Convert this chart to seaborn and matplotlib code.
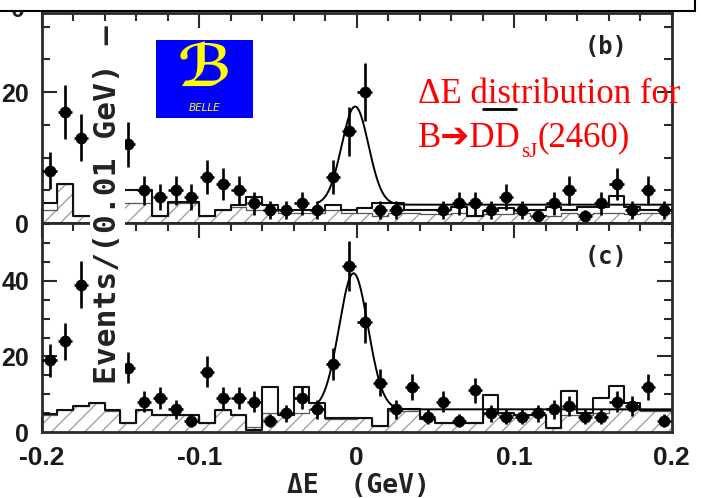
import numpy as np
import pandas as pd
import matplotlib
matplotlib.use("Agg")
import matplotlib.pyplot as plt
from matplotlib.ticker import MultipleLocator, FuncFormatter
from matplotlib.patches import Rectangle
from matplotlib.lines import Line2D
import seaborn as sns

# ---------------- data ----------------
bin_lo, bin_hi, n_bins = -0.20, 0.20, 40
nan = np.nan

# panel (b): events per 0.01 GeV bin (bins hidden by the label box -> nan)
counts_b = [8, 17, 13, nan, nan, 12, 5, 4, 5, 4,
            7, 6, 5, 3, 2, 2, 3, 2, 7, 14,
            20, 2, 2, nan, nan, 2, 3, 3, 2, 4,
            2, 1, 3, 5, 1, 3, 6, 2, 5, 2]
hatch_b = [2.0, 6.0, 1.0, 1.0, 1.0, 3.0, 3.0, 1.0, 3.0, 3.0,
           1.0, 2.0, 2.5, 2.0, 2.0, 1.5, 1.5, 1.5, 2.0, 1.5,
           1.5, 1.0, 1.5, 1.5, 1.3, 1.3, 1.5, 1.0, 1.3, 1.3,
           1.5, 1.0, 1.0, 1.5, 1.3, 1.5, 1.5, 1.3, 1.5, 1.5]
line_b = [3.0, 6.0, 1.0, 1.0, 1.0, 5.0, 5.0, 1.0, 3.2, 3.2,
          1.0, 2.0, 2.7, 3.9, 2.7, 2.0, 2.0, 2.0, 2.7, 2.0,
          2.3, 3.0, 3.0, 2.0, 2.0, 2.0, 2.5, 1.0, 1.8, 2.3,
          2.0, 2.0, 2.5, 2.0, 2.5, 2.5, 4.1, 2.5, 2.0, 2.0]

# panel (c)
counts_c = [19, 24, 39, nan, nan, 17, 8, 9, 6, 3,
            16, 9, 9, 8, 3, 5, 9, 6, 18, 44,
            29, 13, 6, 12, 4, 8, 3, 11, 5, 4,
            4, 5, 6, 7, 4, 4, 8, 7, 12, 3]
hatch_c = [4.6, 5.7, 6.8, 7.7, 5.5, 2.4, 5.7, 4.6, 4.6, 4.6,
           2.4, 5.7, 4.6, 1.3, 5.0, 4.6, 5.0, 6.0, 3.5, 3.5,
           3.7, 1.5, 5.5, 5.5, 3.5, 2.4, 2.4, 2.4, 5.0, 4.6,
           4.6, 4.6, 1.1, 4.6, 4.6, 5.0, 6.0, 6.0, 5.5, 5.5]
line_c = [4.8, 5.7, 6.8, 7.7, 5.7, 2.4, 5.7, 4.6, 4.6, 4.6,
          2.4, 5.7, 4.6, 0.6, 11.9, 4.6, 11.9, 7.7, 3.7, 3.7,
          3.7, 1.5, 6.0, 6.0, 3.5, 2.4, 2.4, 2.4, 9.9, 5.0,
          4.6, 4.6, 1.1, 10.8, 5.0, 9.0, 12.1, 7.7, 5.7, 5.7]

# fit: Gaussian signal + flat background, fitted range
fit_range = (-0.025, 0.20)
fit_b = dict(mean=-0.001, sigma=0.0085, amp=15.0, bkg=2.8)
fit_c = dict(mean=-0.002, sigma=0.0092, amp=36.0, bkg=6.0)

xticks_major = [-0.2, -0.1, 0.0, 0.1, 0.2]

# ---------------- figure ----------------
sns.set_theme(style="ticks")
plt.rcParams["font.family"] = ["DejaVu Sans"]
plt.rcParams["hatch.color"] = "#9a9a9a"
plt.rcParams["hatch.linewidth"] = 0.9

edges = np.linspace(bin_lo, bin_hi, n_bins + 1)
centers = 0.5 * (edges[:-1] + edges[1:])

fig = plt.figure(figsize=(7.01, 4.98), dpi=100)
fig.patch.set_facecolor("white")
L, W = 41.7 / 701, 630.0 / 701
ax_b = fig.add_axes([L, 1 - 223 / 498, W, (223 - 13.5) / 498])
ax_c = fig.add_axes([L, 1 - 432 / 498, W, (432 - 223) / 498], sharex=ax_b)


def hist(ax, values, **kw):
    df = pd.DataFrame({"x": centers, "w": values})
    sns.histplot(data=df, x="x", weights="w", bins=n_bins,
                 binrange=(bin_lo, bin_hi), element="step", ax=ax, **kw)


def draw_panel(ax, counts, hatch, line, fit, ymax):
    hist(ax, hatch, fill=True, facecolor="white", edgecolor="#9a9a9a",
         hatch="//", linewidth=0, alpha=1)
    hist(ax, hatch, fill=False, color="#555555", linewidth=0.9)
    hist(ax, line, fill=False, color="#111111", linewidth=1.5)
    fx = np.linspace(fit_range[0], fit_range[1], 400)
    fy = fit["bkg"] + fit["amp"] * np.exp(-0.5 * ((fx - fit["mean"]) / fit["sigma"]) ** 2)
    sns.lineplot(x=fx, y=fy, color="black", linewidth=1.4, ax=ax)
    c = np.array(counts, dtype=float)
    ok = ~np.isnan(c)
    ax.errorbar(centers[ok], c[ok], yerr=np.sqrt(c[ok]), xerr=0.0045,
                fmt="none", ecolor="black", elinewidth=1.9, capsize=0, zorder=4)
    df = pd.DataFrame({"x": centers[ok], "y": c[ok]})
    sns.scatterplot(data=df, x="x", y="y", color="black", s=72,
                    edgecolor="black", linewidth=0, ax=ax, zorder=5)
    ax.set_xlim(bin_lo, bin_hi)
    ax.set_ylim(0, ymax)
    ax.set_xlabel("")
    ax.set_ylabel("")
    for s in ax.spines.values():
        s.set_linewidth(2.0)
        s.set_color("#2a2a2a")
        s.set_visible(True)
    ax.xaxis.set_major_locator(MultipleLocator(0.1))
    ax.xaxis.set_minor_locator(MultipleLocator(0.02))
    ax.yaxis.set_major_locator(MultipleLocator(20))
    ax.yaxis.set_minor_locator(MultipleLocator(5))
    ax.tick_params(which="both", direction="in", top=True, right=True,
                   color="#2a2a2a", width=1.5, labelsize=19)
    ax.tick_params(which="major", length=11)
    ax.tick_params(which="minor", length=6)
    ax.tick_params(axis="y", pad=9, labelsize=18)
    ax.set_facecolor("white")


draw_panel(ax_b, counts_b, hatch_b, line_b, fit_b, 32.0)
draw_panel(ax_c, counts_c, hatch_c, line_c, fit_c, 55.3)
ax_b.tick_params(labelbottom=False)


def fmt(v, pos):
    v = round(v, 3)
    if abs(v) < 1e-9:
        return "0"
    return f"{v:g}"


ax_c.xaxis.set_major_formatter(FuncFormatter(fmt))
ax_c.set_xticks(xticks_major)
ax_c.tick_params(axis="x", pad=10)
for ax in (ax_b, ax_c):
    for lab in ax.get_xticklabels() + ax.get_yticklabels():
        lab.set_fontweight("bold")
        lab.set_family("Liberation Sans")
        lab.set_color("#1a1a1a")

# panel tags
mono = "DejaVu Sans Mono"
fig.text(606 / 701, 1 - 47 / 498, "(b)", ha="center", va="center",
         family=mono, weight="bold", fontsize=17, color="#222222")
fig.text(606 / 701, 1 - 257 / 498, "(c)", ha="center", va="center",
         family=mono, weight="bold", fontsize=17, color="#222222")

# axis titles
fig.text(107.5 / 701, 1 - 205 / 498, "Events/(0.01 GeV) \u2014", rotation=90,
         ha="center", va="center", family=mono, weight="bold", fontsize=22.5,
         color="#222222", zorder=10,
         bbox=dict(facecolor="white", edgecolor="none", pad=2))
fig.text(358 / 701, 1 - 486 / 498, "\u0394E  (GeV)", ha="center", va="center",
         family=mono, weight="bold", fontsize=19, color="#222222")

# BELLE logo
fig.add_artist(Rectangle((156 / 701, 1 - 118 / 498), 97 / 701, 78 / 498,
                         transform=fig.transFigure, facecolor="#0000ff",
                         edgecolor="none", zorder=6))
fig.text(205 / 701, 1 - 70 / 498, "\u212C", ha="center", va="center",
         family=["DejaVu Serif", "DejaVu Sans"], fontsize=42, weight="bold",
         color="#ffff00", zorder=7)
fig.text(205 / 701, 1 - 108 / 498, "BELLE", ha="center", va="center",
         style="italic", fontsize=7.5, color="#ffff00", zorder=7)

# red annotation
serif = ["Liberation Serif", "DejaVu Sans"]
red = "#ff0000"
fig.text(418 / 701, 1 - 102.7 / 498, "\u0394E distribution for", ha="left",
         va="baseline", family=serif, fontsize=25, color=red, zorder=8)
t2 = ax_b.annotate("B\u2794DD", xy=(418 / 701, 1 - 146.7 / 498),
                   xycoords="figure fraction", ha="left", va="baseline",
                   family=serif, fontsize=25, color=red, zorder=8,
                   annotation_clip=False)
t3 = ax_b.annotate("sJ", xy=(1, 0), xycoords=t2, xytext=(0.5, -5),
                   textcoords="offset points", ha="left", va="bottom",
                   family=serif, fontsize=15, color=red, zorder=8,
                   annotation_clip=False)
ax_b.annotate("(2460)", xy=(1, 0), xycoords=(t3, t2), ha="left", va="bottom",
              family=serif, fontsize=25, color=red, zorder=8,
              annotation_clip=False)
fig.add_artist(Line2D([483 / 701, 516 / 701], [1 - 109 / 498, 1 - 109 / 498],
                      transform=fig.transFigure, color="black", linewidth=2,
                      zorder=9))

# cropped tick label of the panel above and the top box
fig.text(18 / 701, 1 - 10 / 498, "0", ha="center", va="center",
         fontsize=18, weight="bold", family="Liberation Sans",
         color="#222222", zorder=3)
fig.add_artist(Rectangle((-0.01, 1 - 11 / 498), 695 / 701 + 0.01, 0.05,
                         transform=fig.transFigure, facecolor="white",
                         edgecolor="black", linewidth=1.5, zorder=20))

fig.savefig("out.png", dpi=100, facecolor="white")
